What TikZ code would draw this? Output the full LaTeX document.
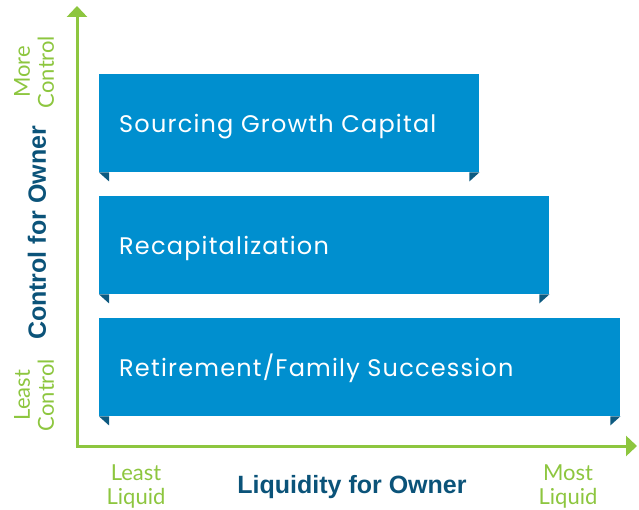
\documentclass[tikz,border=0pt]{standalone}
\usepackage{fontspec}
\usetikzlibrary{arrows.meta}
\newfontfamily\boxfont[LetterSpace=5]{Poppins}
\newfontfamily\lblfont{Lato}
\newfontfamily\titlefont{Liberation Sans}
\definecolor{axisgreen}{HTML}{8DC63F}
\definecolor{boxblue}{HTML}{008FCF}
\definecolor{folddark}{HTML}{0D5A80}
\definecolor{titleblue}{HTML}{0B5379}
\tikzset{
  bar/.style={fill=boxblue, draw=none, rectangle, anchor=north west, minimum height=98pt, inner sep=0pt},
  bartext/.style={anchor=base west, text=white, font=\boxfont\fontsize{24}{28}\selectfont, inner sep=0pt},
  fold/.style={fill=folddark},
  axis/.style={draw=axisgreen, line width=3pt, {Triangle[width=20pt,length=11pt]}-{Triangle[width=20pt,length=11pt]}},
  green label/.style={text=axisgreen, font=\lblfont\fontsize{22}{24}\selectfont, align=center, inner sep=0pt},
  axis title/.style={text=titleblue, font=\titlefont\bfseries\fontsize{25}{28}\selectfont, inner sep=0pt}
}
\begin{document}
\begin{tikzpicture}[x=1pt,y=-1pt]
\useasboundingbox (0,0) rectangle (639,510);
% axes
\coordinate (ytip) at (77,6);
\coordinate (origin) at (77,446);
\coordinate (xtip) at (637,446);
\draw[axis] (ytip) -- (origin) -- (xtip);
% bars
\node[bar, minimum width=380pt] (b1) at (99,74) {};
\node[bar, minimum width=450pt] (b2) at (99,196) {};
\node[bar, minimum width=521pt] (b3) at (99,318) {};
\foreach \b in {b1,b2,b3}{
  \fill[fold] (\b.south west) -- ++(10,0) -- ++(0,9) -- cycle;
  \fill[fold] (\b.south east) -- ++(-10,0) -- ++(0,9) -- cycle;
}
\node[bartext] (t1) at ([xshift=20pt,yshift=-9pt]b1.west) {Sourcing Growth Capital};
\node[bartext] (t2) at ([xshift=20pt,yshift=-9pt]b2.west) {Recapitalization};
\node[bartext] (t3) at ([xshift=20pt,yshift=-9pt]b3.west) {Retirement/Family Succession};
% labels
\node[green label, rotate=90] (more) at (34,72) {More\\Control};
\node[green label, rotate=90] (least) at (34,395) {Least\\Control};
\node[green label] (lliq) at (136,487) {Least\\Liquid};
\node[green label] (mliq) at (568,487) {Most\\Liquid};
\node[axis title, rotate=90] (ytitle) at (37,233) {Control for Owner};
\node[axis title] (xtitle) at (352,487) {Liquidity for Owner};
\end{tikzpicture}
\end{document}
